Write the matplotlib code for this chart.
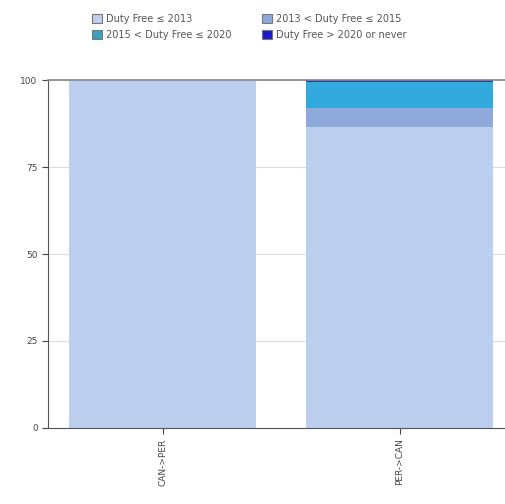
import matplotlib
matplotlib.use('Agg')
import matplotlib.pyplot as plt
import numpy as np

categories = ['CAN->PER', 'PER->CAN']
series_labels = ['Duty Free \u2264 2013', '2013 < Duty Free \u2264 2015',
                 '2015 < Duty Free \u2264 2020', 'Duty Free > 2020 or never']
le_2013 = [100.0, 86.6]
y2013_2015 = [0.0, 5.4]
y2015_2020 = [0.0, 7.5]
gt_2020 = [0.0, 0.5]
colors = ['#bccfee', '#8eaadb', '#33aadd', '#2a3f8f']
legend_colors = ['#bccfee', '#8eaadb', '#3aa0c0', '#1a1ad0']

fig = plt.figure(figsize=(5.06, 5.04), dpi=100)
ax = fig.add_axes([0.095, 0.151, 0.905, 0.690])

x = np.arange(len(categories))
width = 0.79
bottom = np.zeros(len(categories))
for vals, c in zip([le_2013, y2013_2015, y2015_2020, gt_2020], colors):
    ax.bar(x, vals, width, bottom=bottom, color=c, zorder=2)
    bottom += np.array(vals)

ax.set_xlim(-0.485, 1.45)
ax.set_ylim(0, 100)
ax.set_yticks([0, 25, 50, 75, 100])
ax.yaxis.grid(True, color='#dddddd', linewidth=0.8, zorder=0)
ax.set_xticks(x)
ax.set_xticklabels(categories, rotation=90, fontsize=6.5, color='#444444')
ax.tick_params(axis='y', labelsize=6.5, colors='#444444', length=4)
ax.tick_params(axis='x', length=4, colors='#444444')
ax.spines['right'].set_visible(False)
ax.spines['top'].set_color('#888888')
ax.spines['top'].set_linewidth(1.2)
ax.spines['left'].set_color('#555555')
ax.spines['bottom'].set_color('#555555')

# row-wise legend order
order = [0, 2, 1, 3]
handles = [plt.Rectangle((0, 0), 1, 1, facecolor=legend_colors[i], edgecolor='#777777', linewidth=0.8)
           for i in order]
labels = [series_labels[i] for i in order]
fig.legend(handles, labels, ncol=2, loc='upper left', bbox_to_anchor=(0.165, 0.99),
           frameon=False, fontsize=7.0, handlelength=1.0, handleheight=1.0,
           columnspacing=3.2, handletextpad=0.4, labelspacing=0.6, labelcolor='#555555')

plt.savefig('out.png', dpi=100)
